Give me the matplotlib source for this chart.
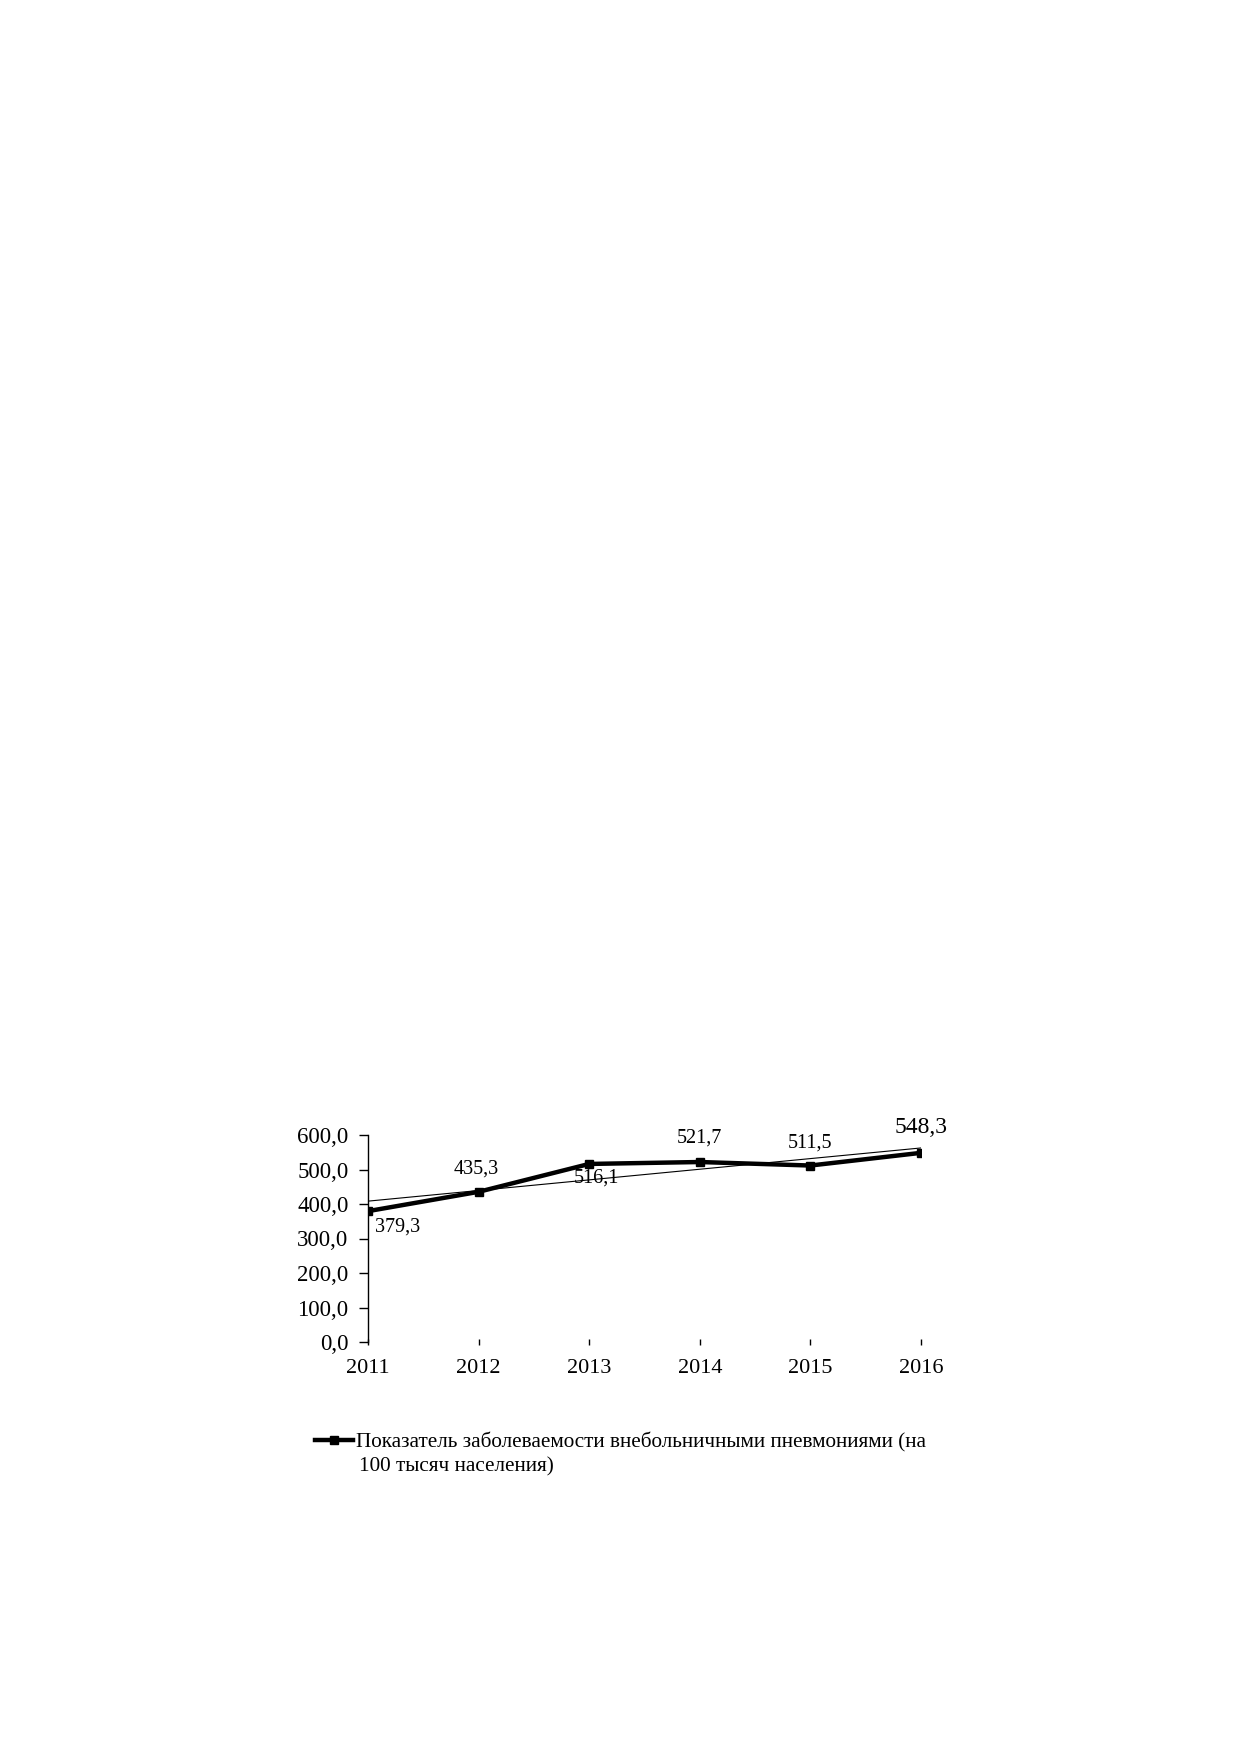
import numpy as np
import matplotlib.pyplot as plt

#----------Data-----------
years = ['2011', '2012', '2013', '2014', '2015', '2016']
values = [379.3, 435.3, 516.1, 521.7, 511.5, 548.3]
value_labels = ['379,3', '435,3', '516,1', '521,7', '511,5', '548,3']
y_ticks = [0, 100, 200, 300, 400, 500, 600]
y_tick_labels = ['0,0', '100,0', '200,0', '300,0', '400,0', '500,0', '600,0']
legend_line1 = 'Показатель заболеваемости внебольничными пневмониями (на'
legend_line2 = '100 тысяч населения)'

plt.rcParams['font.family'] = ['Liberation Serif', 'DejaVu Serif']

W, H = 1239, 1754
fig = plt.figure(figsize=(W/100, H/100), dpi=100)

# axes placed in pixel coordinates of the page
ax_left, ax_right = 368, 921
ax_top, ax_bottom = 1135, 1342
ax = fig.add_axes([ax_left/W, 1 - ax_bottom/H, (ax_right - ax_left)/W, (ax_bottom - ax_top)/H])

x = np.arange(len(years))

# trend line (linear)
k, b = np.polyfit(x, values, 1)
ax.plot(x, k*x + b, color='black', linewidth=0.8, zorder=2)

line, = ax.plot(x, values, color='black', linewidth=3.2, marker='s', markersize=5.5, zorder=3)

ax.set_xlim(0, 5)
ax.set_ylim(0, 600)
ax.set_xticks(x)
ax.set_xticklabels(years, fontsize=16)
ax.set_yticks(y_ticks)
ax.set_yticklabels(y_tick_labels, fontsize=16.5)

for s in ['top', 'right', 'bottom']:
    ax.spines[s].set_visible(False)
ax.spines['left'].set_linewidth(1.0)
ax.tick_params(axis='x', direction='inout', length=4, width=1, pad=10)
ax.tick_params(axis='y', direction='out', length=6.5, width=1, pad=7.5)

# data labels
offsets = [(30, -16), (-2, 23), (7, -14), (0, 24), (0, 22), (0, 25)]
sizes = [14.5, 14.5, 14.5, 14.5, 14.5, 17]
for i, v in enumerate(values):
    ax.annotate(value_labels[i], (x[i], v), xytext=offsets[i], textcoords='offset pixels',
                ha='center', va='center', fontsize=sizes[i])

leg = fig.legend([line], [legend_line1], loc='center left', bbox_to_anchor=(315/W, 1 - 1442/H),
                 frameon=False, fontsize=15.3, handlelength=1.8, handletextpad=0.15,
                 borderaxespad=0, borderpad=0)
fig.text(359/W, 1 - 1467/H, legend_line2, fontsize=15.3, ha='left', va='center')

fig.savefig('out.png', dpi=100)
